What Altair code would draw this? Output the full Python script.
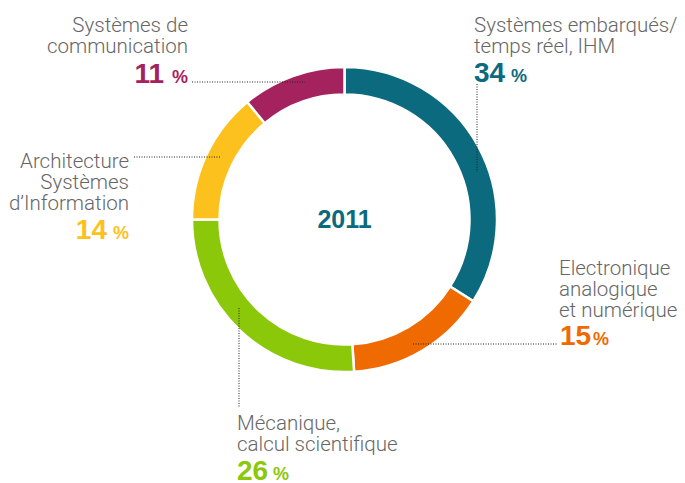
import altair as alt
import pandas as pd

# ---- data ----
categories = [
    "Systèmes embarqués/temps réel, IHM",
    "Electronique analogique et numérique",
    "Mécanique, calcul scientifique",
    "Architecture Systèmes d’Information",
    "Systèmes de communication",
]
shares = [34, 15, 26, 14, 11]
order = [1, 2, 3, 4, 5]
colors = ["#0b6a7e", "#ef6a00", "#8cc80a", "#fcc11c", "#a4235e"]
label_lines = [
    ["Systèmes embarqués/", "temps réel, IHM"],
    ["Electronique", "analogique", "et numérique"],
    ["Mécanique,", "calcul scientifique"],
    ["Architecture", "Systèmes", "d’Information"],
    ["Systèmes de", "communication"],
]
pct_labels = [str(s) for s in shares]
year = "2011"

# ---- layout (page coords, shifted by the 8px page margin) ----
M = 8
def P(x):
    return x - M

CX, CY = 344.5, 219.5
GRAY = "#666666"
FONT = "Roboto"
NUMFONT = "Liberation Sans"
LH = 21

# per category: (align, anchor x for gray lines, first baseline, number x, % x, number baseline)
layout = [
    ("left", 474, 32, 474, 511, 82),
    ("left", 559, 275, 560, 593, 345),
    ("left", 237, 430, 237, 273, 480),
    ("right", 129, 168, 107, 129, 239),
    ("right", 188, 32, 164, 188, 83),
]
leaders = [
    (477, 84, 477, 172),
    (413, 344, 558, 344),
    (239, 308, 239, 407),
    (134, 157, 221, 157),
    (192, 82, 305, 82),
]

df = pd.DataFrame({"category": categories, "share": shares, "order": order})

ring = alt.Chart(df).mark_arc(
    outerRadius=152.5, innerRadius=125, stroke="white", strokeWidth=2.5
).encode(
    theta=alt.Theta("share:Q", stack=True),
    order=alt.Order("order:Q"),
    color=alt.Color("category:N", scale=alt.Scale(domain=categories, range=colors), legend=None),
    x=alt.value(P(CX)),
    y=alt.value(P(CY)),
)

layers = [ring]

center = alt.Chart(pd.DataFrame({"t": [year]})).mark_text(
    font=NUMFONT, fontSize=25, fontWeight="bold", color=colors[0], align="center", baseline="alphabetic"
).encode(text="t:N", x=alt.value(P(CX)), y=alt.value(P(228)))
layers.append(center)

for i, lines in enumerate(label_lines):
    align, ax, b0, nx, px, nb = layout[i]
    for j, line in enumerate(lines):
        layers.append(
            alt.Chart(pd.DataFrame({"t": [line]})).mark_text(
                font=FONT, fontSize=20.5, fontWeight=300, color=GRAY, align=align, baseline="alphabetic"
            ).encode(text="t:N", x=alt.value(P(ax)), y=alt.value(P(b0 + j * LH)))
        )
    layers.append(
        alt.Chart(pd.DataFrame({"t": [pct_labels[i]]})).mark_text(
            font=NUMFONT, fontSize=28, fontWeight="bold", color=colors[i], align=align,
            baseline="alphabetic"
        ).encode(text="t:N", x=alt.value(P(nx)), y=alt.value(P(nb)))
    )
    layers.append(
        alt.Chart(pd.DataFrame({"t": ["%"]})).mark_text(
            font=NUMFONT, fontSize=18, fontWeight="bold", color=colors[i], align=align,
            baseline="alphabetic"
        ).encode(text="t:N", x=alt.value(P(px)), y=alt.value(P(nb)))
    )
    x1, y1, x2, y2 = leaders[i]
    layers.append(
        alt.Chart(pd.DataFrame({"k": [categories[i]]})).mark_rule(
            color="#222222", strokeWidth=1, strokeDash=[1, 1.5]
        ).encode(
            x=alt.value(P(x1)), y=alt.value(P(y1)),
            x2=alt.value(P(x2)), y2=alt.value(P(y2)),
        )
    )

chart = alt.layer(*layers).properties(
    width=669, height=475, padding=0,
    autosize=alt.AutoSizeParams(type="none"),
).configure_view(stroke=None)

chart.save("out.html", embed_options={"renderer": "svg", "actions": False})
